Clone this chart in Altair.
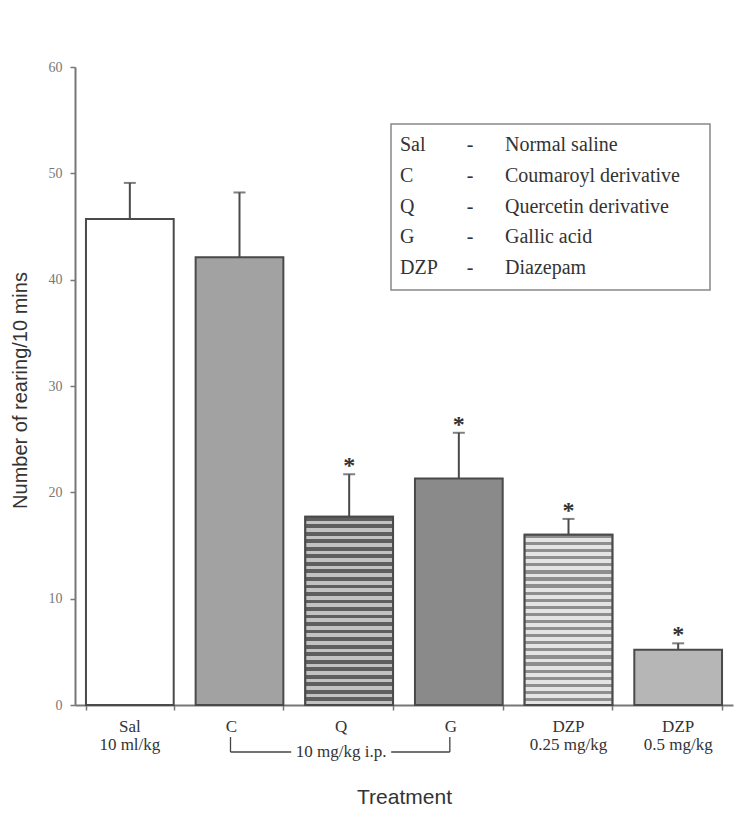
import altair as alt
import pandas as pd

categories = ["Sal", "C", "Q", "G", "DZP 0.25", "DZP 0.5"]
means = [45.7, 42.1, 17.7, 21.3, 16.0, 5.2]
sem = [3.4, 6.1, 4.0, 4.3, 1.5, 0.6]
significant = [False, False, True, True, True, True]
fills = ["#ffffff", "#a2a2a2", "#8e8e8e", "#8a8a8a", "#c4c4c4", "#b6b6b6"]
label_line1 = ["Sal", "C", "Q", "G", "DZP", "DZP"]
label_line2 = ["10 ml/kg", "", "", "", "0.25 mg/kg", "0.5 mg/kg"]
shifted = [False, True, True, True, False, False]
legend_abbr = ["Sal", "C", "Q", "G", "DZP"]
legend_desc = ["Normal saline", "Coumaroyl derivative", "Quercetin derivative", "Gallic acid", "Diazepam"]
dose_group = "10 mg/kg i.p."

df = pd.DataFrame({
    "cat": categories, "mean": means, "sem": sem, "sig": significant,
    "fill": fills, "l1": label_line1, "l2": label_line2, "shift": shifted,
})
df["top"] = df["mean"] + df["sem"]

leg = pd.DataFrame({"abbr": legend_abbr, "desc": legend_desc, "i": list(range(len(legend_abbr)))})

serif = "Liberation Serif"
sans = "Liberation Sans"
edge = "#4a4a4a"
PLOT_H = 638
Y_MAX = 60


def stripes(height_px, period, dark, light, dark_frac):
    n = max(1, round(height_px / period))
    stops = []
    for k in range(n):
        a = k / n
        m = (k + dark_frac) / n
        b = (k + 1) / n
        stops += [{"offset": a, "color": dark}, {"offset": m, "color": dark},
                  {"offset": m, "color": light}, {"offset": b, "color": light}]
    return {"gradient": "linear", "x1": 0, "y1": 0, "x2": 0, "y2": 1, "stops": stops}


xscale = alt.Scale(domain=categories, paddingInner=0.2, paddingOuter=0.1)
xs = alt.X("cat:N", scale=xscale,
           axis=alt.Axis(labels=False, title="Treatment", tickBand="extent",
                         tickSize=5, tickColor="#777", domainColor="#777", domainWidth=2,
                         tickWidth=1.5, titleFont=sans, titleFontSize=21, titleFontWeight="normal",
                         titleColor="#333", titleY=92, titleBaseline="middle"))
ys = alt.Y("mean:Q", scale=alt.Scale(domain=[0, Y_MAX], nice=False),
           axis=alt.Axis(values=[0, 10, 20, 30, 40, 50, 60], grid=False, tickSize=5,
                         tickColor="#777", domainColor="#777", domainWidth=2, tickWidth=1.5,
                         labelFont=serif, labelFontSize=14, labelColor="#777", labelPadding=8,
                         title="Number of rearing/10 mins", titleFont=sans, titleFontSize=20,
                         titleFontWeight="normal", titleColor="#333", titleX=-55, titleY=323,
                         titleBaseline="middle"))

xc = alt.X("cat:N", scale=xscale)
base = alt.Chart(df)

bars = base.mark_bar(stroke=edge, strokeWidth=2).encode(
    x=xs, y=ys, fill=alt.Fill("fill:N", scale=None))

q_h = means[categories.index("Q")] / Y_MAX * PLOT_H
d_h = means[categories.index("DZP 0.25")] / Y_MAX * PLOT_H
bar_q = base.transform_filter(alt.FieldEqualPredicate(field="cat", equal="Q")).mark_bar(
    stroke=edge, strokeWidth=2).encode(
    x=xc, y="mean:Q", fill=alt.value(stripes(q_h, 7.6, "#5e5e5e", "#c2c2c2", 0.5)))
bar_d = base.transform_filter(alt.FieldEqualPredicate(field="cat", equal="DZP 0.25")).mark_bar(
    stroke=edge, strokeWidth=2).encode(
    x=xc, y="mean:Q", fill=alt.value(stripes(d_h, 7.0, "#8e8e8e", "#e4e4e4", 0.45)))

err = base.mark_rule(color=edge, strokeWidth=2).encode(x=xc, y="mean:Q", y2="top:Q")

caps = base.mark_tick(color=edge, size=12, thickness=2).encode(x=xc, y="top:Q")

stars = base.transform_filter("datum.sig").mark_text(
    text="*", font=serif, fontSize=24, fontWeight="bold", color="#333",
    baseline="middle", dy=-8).encode(x=xc, y="top:Q")

lab1a = base.transform_filter("!datum.shift").mark_text(
    font=serif, fontSize=17, color="#333", baseline="middle").encode(
    x=xc, y=alt.value(660), text="l1:N")
lab1b = base.transform_filter("datum.shift").mark_text(
    font=serif, fontSize=17, color="#333", baseline="middle", dx=-8).encode(
    x=xc, y=alt.value(660), text="l1:N")
lab2 = base.mark_text(font=serif, fontSize=17, color="#333", baseline="middle").encode(
    x=xc, y=alt.value(678), text="l2:N")

br = df[df["shift"]]
brk = alt.Chart(br)
first, mid, last = br["cat"].iloc[0], br["cat"].iloc[1], br["cat"].iloc[-1]
brd = pd.DataFrame({"a": [first], "m": [mid], "b": [last], "t": [dose_group]})
bc = alt.Chart(brd)
vlines = brk.transform_filter(alt.FieldOneOfPredicate(field="cat", oneOf=[first, last])).mark_rule(
    color="#444", strokeWidth=1.3, xOffset=-9).encode(
    x=xc, y=alt.value(670), y2=alt.value(685))
hl1 = bc.mark_rule(color="#444", strokeWidth=1.3, xOffset=-9, x2Offset=-58).encode(
    x=alt.X("a:N", scale=xscale), x2=alt.X2("m:N"), y=alt.value(685))
hl2 = bc.mark_rule(color="#444", strokeWidth=1.3, xOffset=42, x2Offset=-9).encode(
    x=alt.X("m:N", scale=xscale), x2=alt.X2("b:N"), y=alt.value(685))
btxt = bc.mark_text(font=serif, fontSize=17, color="#333", baseline="middle", dx=-8).encode(
    x=alt.X("m:N", scale=xscale), y=alt.value(685), text="t:N")

box = alt.Chart(pd.DataFrame({"k": [0]})).mark_rect(
    fill="white", stroke="#888", strokeWidth=1.5).encode(
    x=alt.value(316), x2=alt.value(635), y=alt.value(57), y2=alt.value(223))
lc = alt.Chart(leg).transform_calculate(py="78 + 30.8 * datum.i")
l_abbr = lc.mark_text(font=serif, fontSize=20, color="#333", align="left", baseline="middle").encode(
    x=alt.value(325), y=alt.Y("py:Q", scale=None), text="abbr:N")
l_dash = lc.mark_text(font=serif, fontSize=20, color="#333", align="center", baseline="middle", text="-").encode(
    x=alt.value(395), y=alt.Y("py:Q", scale=None))
l_desc = lc.mark_text(font=serif, fontSize=20, color="#333", align="left", baseline="middle").encode(
    x=alt.value(430), y=alt.Y("py:Q", scale=None), text="desc:N")

chart = alt.layer(
    bars, bar_q, bar_d, err, caps, stars, lab1a, lab1b, lab2, vlines, hl1, hl2, btxt,
    box, l_abbr, l_dash, l_desc
).properties(
    width=658, height=PLOT_H,
    background="white",
    autosize=alt.AutoSizeParams(type="none"),
    padding={"left": 67, "top": 59, "right": 10, "bottom": 110},
).configure_view(stroke=None)

chart.save("out.html", embed_options={"renderer": "svg", "actions": False})
